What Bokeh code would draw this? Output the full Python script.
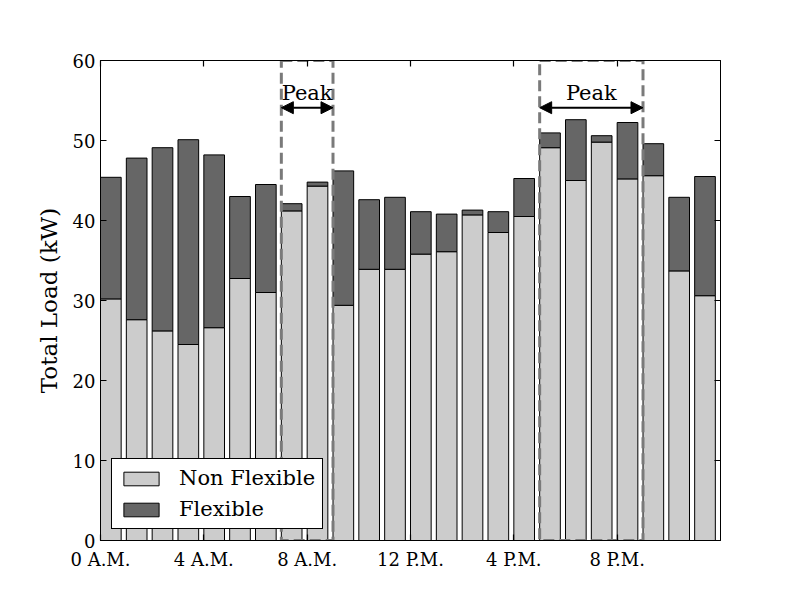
from bokeh.plotting import figure
from bokeh.models import (LinearAxis, FixedTicker, Arrow, NormalHead, Legend, LegendItem,
                          Range1d, ColumnDataSource, Label, CustomLabelingPolicy)
from bokeh.embed import file_html
from bokeh.resources import INLINE
from bokeh.core.properties import value

# ---- data ----
hours = list(range(24))
non_flexible = [30.2, 27.6, 26.2, 24.5, 26.6, 32.75, 31.0, 41.2, 44.3, 29.4, 33.9, 33.9,
                35.8, 36.1, 40.7, 38.5, 40.5, 49.1, 45.0, 49.8, 45.2, 45.6, 33.7, 30.6]
flexible = [15.2, 20.2, 22.9, 25.6, 21.6, 10.25, 13.5, 0.9, 0.5, 16.8, 8.7, 9.0,
            5.3, 4.7, 0.6, 2.6, 4.75, 1.85, 7.6, 0.8, 7.05, 4.0, 9.2, 14.9]
x_ticks = [0, 4, 8, 12, 16, 20]
x_tick_labels = ["0 A.M.", "4 A.M.", "8 A.M.", "12 P.M.", "4 P.M.", "8 P.M."]
y_ticks = [0, 10, 20, 30, 40, 50, 60]
peak_starts = [7, 17]
peak_ends = [9, 21]
peak_arrow_y = 54.1
peak_label_y = 56.0
bar_width = 0.8

FONT = "DejaVu Serif"

src = ColumnDataSource(dict(
    x=[h + bar_width / 2 for h in hours],
    non_flexible=non_flexible,
    flexible=flexible,
))

p = figure(width=800, height=600, output_backend="svg", toolbar_location=None,
           x_range=Range1d(0, 24), y_range=Range1d(0, 60),
           min_border_left=100, min_border_right=80, min_border_top=60, min_border_bottom=60)
p.background_fill_color = "white"
p.border_fill_color = "white"
p.outline_line_color = "black"
p.outline_line_width = 1
p.xgrid.visible = False
p.ygrid.visible = False

rs = p.vbar_stack(["non_flexible", "flexible"], x="x", width=bar_width, source=src,
                  fill_color=["#cccccc", "#666666"], line_color="black", line_width=1)

# peak windows
p.quad(left=peak_starts, right=peak_ends, bottom=[0] * len(peak_starts), top=[60] * len(peak_starts),
       fill_alpha=0, line_color="#7a7a7a", line_width=3, line_dash="11 5")

for s, e in zip(peak_starts, peak_ends):
    p.add_layout(Arrow(x_start=s, x_end=e, y_start=peak_arrow_y, y_end=peak_arrow_y,
                       line_width=2, line_color="black",
                       start=NormalHead(size=12, fill_color="black", line_color="black"),
                       end=NormalHead(size=12, fill_color="black", line_color="black")))
    p.add_layout(Label(x=(s + e) / 2, y=peak_label_y, text="Peak", text_align="center",
                       text_baseline="middle", text_font=FONT, text_font_size="21px",
                       text_color="black"))

# axes styling
def style_axis(ax):
    ax.major_tick_in = 6
    ax.major_tick_out = 0
    ax.minor_tick_in = 0
    ax.minor_tick_out = 0
    ax.axis_line_color = "black"
    ax.major_tick_line_color = "black"
    ax.major_tick_line_width = 1.2
    ax.major_label_text_font = FONT
    ax.major_label_text_font_size = "18px"
    ax.major_label_text_color = "black"

p.xaxis.ticker = FixedTicker(ticks=x_ticks)
p.xaxis.major_label_overrides = {t: l for t, l in zip(x_ticks, x_tick_labels)}
p.yaxis.ticker = FixedTicker(ticks=y_ticks)
style_axis(p.xaxis[0])
style_axis(p.yaxis[0])
p.xaxis.major_label_standoff = 8
p.yaxis.major_label_standoff = 5
p.yaxis.axis_label = "Total Load (kW)"
p.yaxis.axis_label_text_font = FONT
p.yaxis.axis_label_text_font_style = "normal"
p.yaxis.axis_label_text_font_size = "23px"
p.yaxis.axis_label_text_color = "black"
p.yaxis.axis_label_standoff = 8

no_labels = CustomLabelingPolicy(code="""
    for (const i of Array.from(indices)) indices.unset(i)
    return indices
""")
top = LinearAxis(ticker=FixedTicker(ticks=x_ticks), major_label_policy=no_labels)
style_axis(top)
p.add_layout(top, "above")
right = LinearAxis(ticker=FixedTicker(ticks=y_ticks), major_label_policy=no_labels)
style_axis(right)
p.add_layout(right, "right")

legend = Legend(items=[LegendItem(label="Non Flexible", renderers=[rs[0]]),
                       LegendItem(label="Flexible", renderers=[rs[1]])],
                location=(11, 11), orientation="vertical")
legend.label_text_font = FONT
legend.label_text_font_size = "21px"
legend.label_text_color = "black"
legend.glyph_width = 44
legend.glyph_height = 17
legend.label_standoff = 16
legend.label_height = 17
legend.spacing = 7
legend.padding = 7
legend.margin = 0
legend.border_line_color = "black"
legend.border_line_width = 1
legend.border_line_alpha = 1
legend.background_fill_alpha = 1
p.add_layout(legend)

open("out.html", "w").write(file_html(p, INLINE))
